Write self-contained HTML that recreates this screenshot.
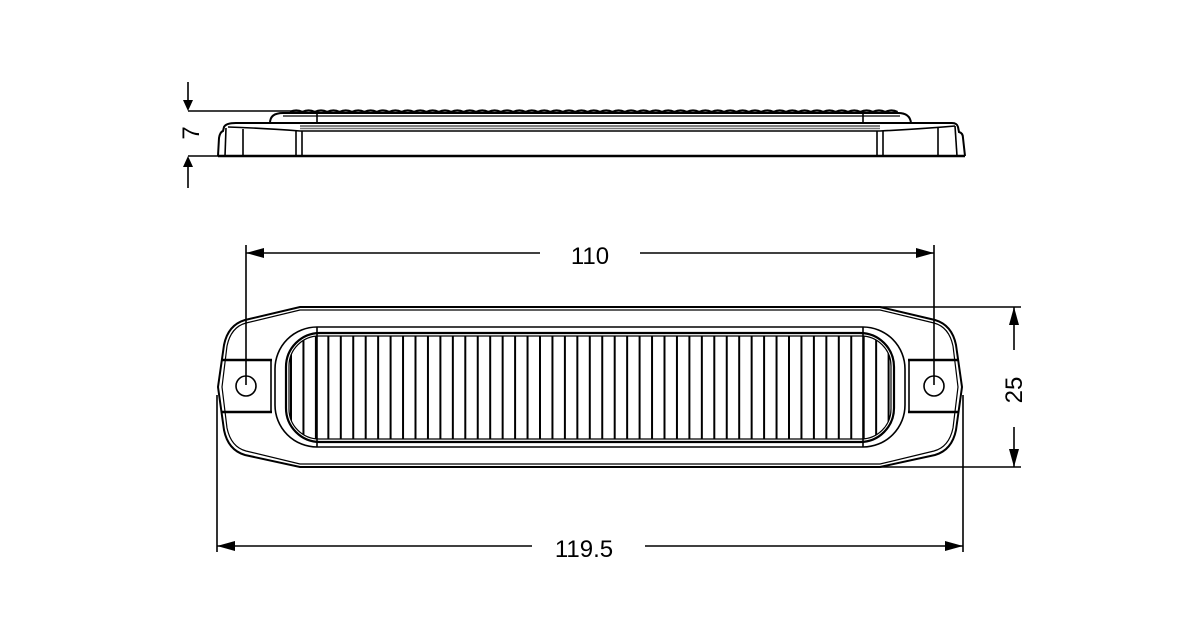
<!DOCTYPE html>
<html><head><meta charset="utf-8"><style>
html,body{margin:0;padding:0;background:#fff}
svg{display:block}
text{font-family:"Liberation Sans",Arial,sans-serif;font-size:24px;fill:#000}
</style></head><body>
<svg width="1200" height="638" viewBox="0 0 1200 638" xmlns="http://www.w3.org/2000/svg">
<defs>
<pattern id="ribs" x="290" y="0" width="12.45" height="10" patternUnits="userSpaceOnUse">
<line x1="1" y1="0" x2="1" y2="10" stroke="#000" stroke-width="2"/>
</pattern>
<clipPath id="lensclip"><rect x="289" y="336" width="602" height="103" rx="30"/></clipPath>
</defs>
<g fill="none" stroke="#000" stroke-width="1.6">
<!-- SIDE VIEW -->
<line x1="188" y1="111" x2="300" y2="111"/>
<line x1="188" y1="156" x2="220" y2="156"/>
<line x1="188" y1="82" x2="188" y2="100"/>
<line x1="188" y1="167" x2="188" y2="188"/>
<path d="M218,156 L219,138 Q220,132 223,131 L224,127 Q226,123 236,123 L952,123 Q957,123 958,127 L959,132 Q963,133 963,138 L965,156" stroke-width="2"/>
<line x1="218" y1="156" x2="965" y2="156" stroke-width="2.4"/>
<path d="M228,127 Q260,128 300,131 L880,131 Q920,129 955,126"/>
<line x1="300" y1="126" x2="880" y2="126" stroke="#555"/>
<line x1="300" y1="128.5" x2="880" y2="128.5" stroke="#777"/>
<line x1="226" y1="128" x2="225" y2="156"/>
<line x1="243" y1="129" x2="243" y2="156"/>
<line x1="296" y1="131" x2="296" y2="156"/>
<line x1="302" y1="131" x2="302" y2="156"/>
<line x1="877" y1="131" x2="877" y2="156"/>
<line x1="883" y1="131" x2="883" y2="156"/>
<line x1="938" y1="128" x2="938" y2="156"/>
<line x1="955" y1="126" x2="957" y2="156"/>
<path d="M270,123 Q270,113 283,113 L898,113 Q910,113 911,123" stroke-width="2"/>
<path d="M283,116 L900,116" stroke-width="1.2"/>
<line x1="317" y1="112" x2="317" y2="123"/>
<line x1="863" y1="112" x2="863" y2="123"/>
<path d="M290,112 q6.2,-3 12.4,0 q6.2,-3 12.4,0 q6.2,-3 12.4,0 q6.2,-3 12.4,0 q6.2,-3 12.4,0 q6.2,-3 12.4,0 q6.2,-3 12.4,0 q6.2,-3 12.4,0 q6.2,-3 12.4,0 q6.2,-3 12.4,0 q6.2,-3 12.4,0 q6.2,-3 12.4,0 q6.2,-3 12.4,0 q6.2,-3 12.4,0 q6.2,-3 12.4,0 q6.2,-3 12.4,0 q6.2,-3 12.4,0 q6.2,-3 12.4,0 q6.2,-3 12.4,0 q6.2,-3 12.4,0 q6.2,-3 12.4,0 q6.2,-3 12.4,0 q6.2,-3 12.4,0 q6.2,-3 12.4,0 q6.2,-3 12.4,0 q6.2,-3 12.4,0 q6.2,-3 12.4,0 q6.2,-3 12.4,0 q6.2,-3 12.4,0 q6.2,-3 12.4,0 q6.2,-3 12.4,0 q6.2,-3 12.4,0 q6.2,-3 12.4,0 q6.2,-3 12.4,0 q6.2,-3 12.4,0 q6.2,-3 12.4,0 q6.2,-3 12.4,0 q6.2,-3 12.4,0 q6.2,-3 12.4,0 q6.2,-3 12.4,0 q6.2,-3 12.4,0 q6.2,-3 12.4,0 q6.2,-3 12.4,0 q6.2,-3 12.4,0 q6.2,-3 12.4,0 q6.2,-3 12.4,0 q6.2,-3 12.4,0 q6.2,-3 12.4,0 q6.2,-3 12.4,0" stroke-width="2.2"/>

<!-- TOP VIEW: dimensions -->
<line x1="246" y1="253" x2="540" y2="253"/>
<line x1="640" y1="253" x2="934" y2="253"/>
<line x1="246" y1="245" x2="246" y2="385"/>
<line x1="934" y1="245" x2="934" y2="385"/>
<line x1="217" y1="546" x2="532" y2="546"/>
<line x1="645" y1="546" x2="963" y2="546"/>
<line x1="217" y1="395" x2="217" y2="552"/>
<line x1="963" y1="395" x2="963" y2="552"/>
<line x1="870" y1="307" x2="1021" y2="307"/>
<line x1="870" y1="467" x2="1021" y2="467"/>
<line x1="1014" y1="307" x2="1014" y2="350"/>
<line x1="1014" y1="427" x2="1014" y2="467"/>

<!-- outer body -->
<path d="M300,307 L880,307 L935,320 Q952,325 956,345 L962,387 L956,430 Q952,450 935,455 L880,467 L300,467 L245,455 Q228,450 224,430 L218,387 L224,345 Q228,325 245,320 Z" stroke-width="2"/>
<path d="M300,310 L880,310 L934,323 Q949,327 953,346 L958,387 L953,428 Q949,447 934,451 L880,464 L300,464 L246,451 Q231,447 227,428 L222,387 L227,346 Q231,327 246,323 Z" stroke-width="1.2"/>
<!-- mount bands -->
<line x1="221" y1="360" x2="272" y2="360" stroke-width="2.4"/>
<line x1="221" y1="412" x2="272" y2="412" stroke-width="2.4"/>
<line x1="908" y1="360" x2="959" y2="360" stroke-width="2.4"/>
<line x1="908" y1="412" x2="959" y2="412" stroke-width="2.4"/>
<line x1="271" y1="360" x2="271" y2="412"/>
<line x1="909" y1="360" x2="909" y2="412"/>
<circle cx="246" cy="386" r="10"/>
<circle cx="934" cy="386" r="10"/>
<!-- lens -->
<rect x="275" y="327" width="630" height="120" rx="42" stroke-width="1.6"/>
<line x1="317" y1="327" x2="317" y2="447"/>
<line x1="863" y1="327" x2="863" y2="447"/>
<rect x="286" y="333" width="608" height="109" rx="34" stroke-width="2.2"/>
<rect x="289" y="336" width="602" height="103" rx="30" stroke-width="1.2"/>
<rect x="289" y="336" width="602" height="103" fill="url(#ribs)" stroke="none" clip-path="url(#lensclip)"/>
</g>
<!-- arrowheads -->
<g fill="#000">
<polygon points="183,100 193,100 188,111"/>
<polygon points="183,167 193,167 188,156"/>
<polygon points="246,253 264,248 264,258"/>
<polygon points="934,253 916,248 916,258"/>
<polygon points="217,546 235,541 235,551"/>
<polygon points="963,546 945,541 945,551"/>
<polygon points="1014,307 1009,325 1019,325"/>
<polygon points="1014,467 1009,449 1019,449"/>
</g>
<text x="590" y="264" text-anchor="middle">110</text>
<text x="584" y="557" text-anchor="middle">119.5</text>
<text transform="translate(1022,390) rotate(-90)" text-anchor="middle">25</text>
<text transform="translate(199,133) rotate(-90)" text-anchor="middle">7</text>
</svg>
</body></html>
